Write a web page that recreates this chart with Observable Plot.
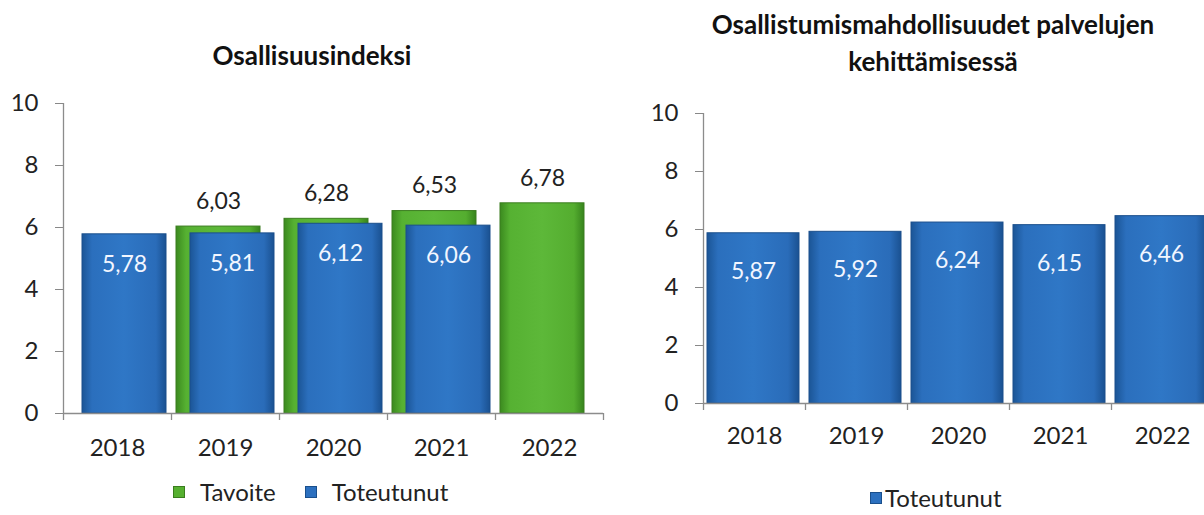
<!DOCTYPE html>
<html><head><meta charset="utf-8">
<script src="https://cdn.jsdelivr.net/npm/d3@7"></script>
<script src="https://cdn.jsdelivr.net/npm/@observablehq/plot@0.6"></script>
<style>
html,body{margin:0;padding:0;background:#fff;width:1204px;height:515px;overflow:hidden;font-family:Lato,"Open Sans",sans-serif;}
.title{position:absolute;font-weight:bold;font-size:26px;color:#111;text-align:center;line-height:37px;white-space:nowrap}
.legend{position:absolute;font-size:24px;color:#222;display:flex;align-items:center;white-space:nowrap}
.sw{display:inline-block;width:12px;height:12px;box-sizing:border-box}
.chart{position:absolute;overflow:visible}
.chart svg{max-width:none !important;overflow:visible}
</style></head><body>
<div class="title" id="t1" style="left:112px;top:37px;width:400px">Osallisuusindeksi</div>
<div class="title" id="t2" style="left:633px;top:6px;width:600px">Osallistumismahdollisuudet palvelujen<br>kehittämisessä</div>
<div class="chart" id="c1" style="left:0;top:80px;width:620px"></div>
<div class="chart" id="c2" style="left:620px;top:90px;width:600px"></div>
<div class="legend" id="l1" style="left:173px;top:477px"></div>
<div class="legend" id="l2" style="left:870px;top:483px"></div>
<script>
const years = ["2018", "2019", "2020", "2021", "2022"];
const tavoite = [null, 6.03, 6.28, 6.53, 6.78];
const toteutunut1 = [5.78, 5.81, 6.12, 6.06, null];
const toteutunut2 = [5.87, 5.92, 6.24, 6.15, 6.46];
const yTicks = [0, 2, 4, 6, 8, 10];
const seriesNames = ["Tavoite", "Toteutunut"];

const BLUE = "#2c70bf", GREEN = "#56b030";
const fmt = v => v.toFixed(2).replace(".", ",");
const font = {fontFamily: "Lato, 'Open Sans', sans-serif", fontSize: "24px", color: "#888", background: "transparent", maxWidth: "none", overflow: "visible"};

function rows(vals) {
  return years.map((y, i) => ({year: y, v: vals[i]})).filter(d => d.v != null);
}

function addDefs(svg, prefix) {
  const defs = d3.select(svg).insert("defs", ":first-child");
  const mk = (id, stops) => {
    const g = defs.append("linearGradient").attr("id", prefix + id).attr("x1", "0").attr("x2", "1").attr("y1", "0").attr("y2", "0");
    stops.forEach(([o, c]) => g.append("stop").attr("offset", o).attr("stop-color", c));
  };
  mk("blue", [["0", "#1b5596"], ["0.12", "#2b6fbd"], ["0.5", "#2f77c6"], ["0.88", "#2a6cb9"], ["1", "#1a5191"]]);
  mk("green", [["0", "#3b8a1f"], ["0.12", "#56b132"], ["0.5", "#5db839"], ["0.88", "#54ad2f"], ["1", "#37841d"]]);
}

function styleAxes(svg) {
  d3.select(svg).selectAll("g[aria-label*='axis'] text").attr("fill", "#222");
}

function chart({width, height, mL, mR, mT, mB, series, tickPad, xPad, prefix}) {
  const innerW = width - mL - mR;
  const innerH = height - mT - mB;
  const step = innerW / years.length;
  const tickLen = 7 * 10 / innerH;
  const marks = [];
  for (const s of series) {
    const data = rows(s.values);
    marks.push(Plot.barY(data, {x: "year", y: "v", fill: `url(#${prefix}${s.grad})`, stroke: s.stroke, strokeWidth: 1,
      insetLeft: s.inset, insetRight: s.inset, dx: s.dx}));
  }
  for (const s of series) {
    const data = rows(s.values);
    marks.push(Plot.text(data, {x: "year", y: "v", text: d => fmt(d.v), dx: s.dx, dy: s.labelDy,
      fill: s.labelFill, fontSize: 23}));
  }
  marks.push(Plot.ruleY([0], {stroke: "#8c8c8c", strokeWidth: 1.3}));
  marks.push(Plot.ruleX([years[0]], {x: d => d, y1: 0, y2: 10, dx: -step / 2, stroke: "#8c8c8c", strokeWidth: 1.3}));
  marks.push(Plot.ruleX(years, {x: d => d, y1: 0, y2: -tickLen, dx: -step / 2, stroke: "#8c8c8c", strokeWidth: 1.3}));
  marks.push(Plot.ruleX([years[years.length - 1]], {x: d => d, y1: 0, y2: -tickLen, dx: step / 2, stroke: "#8c8c8c", strokeWidth: 1.3}));
  const svg = Plot.plot({
    width, height, marginLeft: mL, marginRight: mR, marginTop: mT, marginBottom: mB,
    style: font,
    x: {type: "band", domain: years, padding: 0, tickSize: 0, tickPadding: xPad, label: null},
    y: {domain: [0, 10], ticks: yTicks, tickSize: 8, tickPadding: tickPad, label: null, tickFormat: d => String(d)},
    marks
  });
  addDefs(svg, prefix);
  styleAxes(svg);
  return svg;
}

document.getElementById("c1").appendChild(chart({
  width: 620, height: 390, mL: 63, mR: 17, mT: 23, mB: 57, tickPad: 17, xPad: 25, prefix: "a",
  series: [
    {values: tavoite, grad: "green", stroke: "#3a7d1e", inset: 12, dx: -7, labelDy: -25, labelFill: "#222"},
    {values: toteutunut1, grad: "blue", stroke: "#1a4f8c", inset: 12, dx: 7, labelDy: 30, labelFill: "#f2f6ff"}
  ]
}));

document.getElementById("c2").appendChild(chart({
  width: 600, height: 373, mL: 83, mR: 7, mT: 23, mB: 60, tickPad: 17, xPad: 23, prefix: "b",
  series: [
    {values: toteutunut2, grad: "blue", stroke: "#1a4f8c", inset: 5, dx: -1, labelDy: 38, labelFill: "#f2f6ff"}
  ]
}));

function legend(el, items, gap, sep) {
  const root = d3.select(el);
  items.forEach((it, i) => {
    const item = root.append("span").style("display", "flex").style("align-items", "center").style("margin-right", i < items.length - 1 ? sep + "px" : "0");
    item.append("span").attr("class", "sw").style("background", it.color).style("border", "1px solid " + it.border);
    item.append("span").style("margin-left", gap + "px").text(it.name);
  });
}
legend(document.getElementById("l1"), [
  {name: seriesNames[0], color: GREEN, border: "#3a7d1e"},
  {name: seriesNames[1], color: BLUE, border: "#1a4f8c"}
], 15, 29);
legend(document.getElementById("l2"), [
  {name: seriesNames[1], color: BLUE, border: "#1a4f8c"}
], 3, 0);
</script>
</body></html>
